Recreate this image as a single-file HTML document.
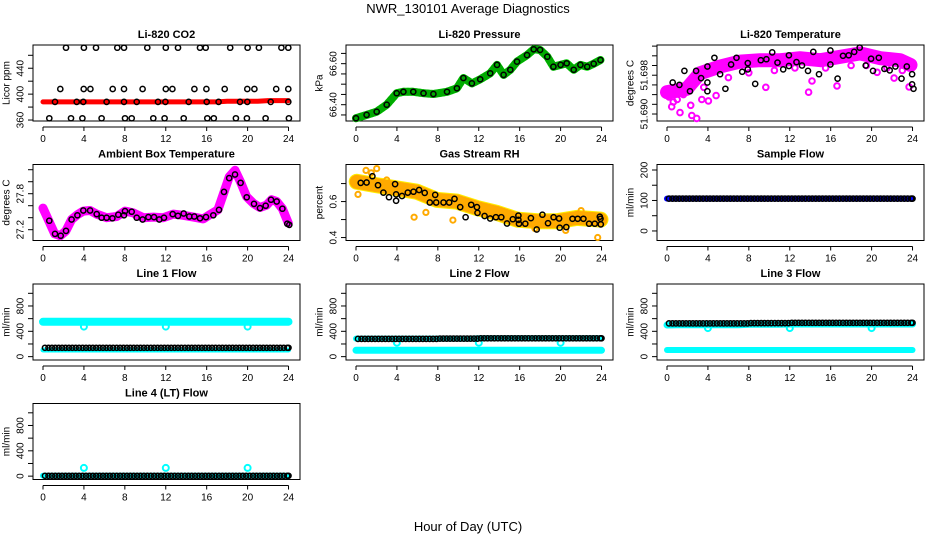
<!DOCTYPE html>
<html><head><meta charset="utf-8"><style>
html,body{margin:0;padding:0;background:#fff;}
svg{display:block;font-family:"Liberation Sans",Helvetica,sans-serif;}
</style></head><body>
<svg id="chart" width="936" height="540" viewBox="0 0 936 540" xmlns="http://www.w3.org/2000/svg">
<text x="468" y="13" font-size="13" text-anchor="middle">NWR_130101  Average Diagnostics</text>
<text x="468" y="531" font-size="13" text-anchor="middle">Hour of Day (UTC)</text>
</svg>
<script>
const xTicks = [0,4,8,12,16,20,24];
const co2RedHourly = [388,388,388,388,388,388,388,388,388,388,388,388,388,388,388,388,388,388,389,389,389,389,390,390,390];
const co2TopHours = [2.25,4.0,5.18,7.26,7.92,10.2,12.0,13.2,15.35,15.9,18.3,20.0,21.1,23.3,23.98];
const co2TopValue = 471.7;
const co2MidHours = [1.69,3.98,4.63,6.81,7.92,9.74,12.0,12.65,14.8,15.97,17.76,19.97,20.66,22.8,23.98];
const co2MidValue = 408;
const co2LineHours = [1.17,3.29,3.94,6.22,7.92,9.16,11.24,11.96,14.24,16.0,17.17,19.26,19.97,22.26,23.98];
const co2LineValue = 388;
const co2LowHours = [0.62,2.74,3.85,5.73,8.02,8.67,10.78,11.89,13.75,16.06,16.7,18.86,19.93,21.76,24.04];
const co2LowValue = 362.6;
const presHours = [0,1.04,2.02,3.0,3.98,4.63,5.6,6.6,7.57,8.9,9.86,10.5,11.33,12.14,13.12,13.78,14.43,15.08,15.74,16.72,17.37,18.0,18.7,19.3,20.0,20.6,21.28,21.94,22.6,23.24,23.9];
const presValues = [66.334,66.35,66.366,66.40,66.456,66.463,66.463,66.456,66.452,66.463,66.48,66.53,66.504,66.524,66.553,66.594,66.545,66.57,66.61,66.642,66.67,66.667,66.634,66.585,66.594,66.602,66.57,66.594,66.585,66.60,66.618];
const tempTrendHours = [0,1.93,3.23,5.19,7.15,9.1,11.07,13.0,15.0,16.94,18.9,20.86,22.8,23.8];
const tempTrendValues = [51.6945,51.6952,51.6984,51.6998,51.7008,51.7011,51.7011,51.7015,51.7011,51.7018,51.7025,51.7015,51.7011,51.7001];
const tempOutHours = [0.46,1.27,2.42,2.9,3.4,4.05,4.8,9.66,13.84,14.17,16.62,20.54,22.2,23.67,2.32,0.62,0.2,1.0,1.6,2.0,3.6,6.0,8.0,10.5,12.5,15.5,18.0,19.5,21.5,23.0];
const tempOutValues = [51.6915,51.6903,51.6897,51.6891,51.6930,51.6927,51.6938,51.6955,51.6945,51.6968,51.6958,51.6986,51.6974,51.6956,51.6918,51.6925,51.6935,51.6930,51.6940,51.6948,51.6955,51.6975,51.6985,51.6990,51.6995,51.6995,51.7000,51.7000,51.6995,51.6990];
const tempBlackHours = [0.56,1.21,1.70,2.25,2.84,3.33,3.95,3.95,3.95,4.63,5.19,5.71,6.27,6.79,7.35,7.9,7.9,8.62,9.17,9.72,10.28,10.8,11.36,11.92,11.92,12.66,13.2,13.78,14.3,14.86,15.97,15.97,16.68,17.2,17.76,18.3,18.84,19.42,19.95,20.14,20.7,21.25,21.77,22.33,22.92,23.44,23.96,23.96,24.1];
const tempBlackValues = [51.6965,51.6960,51.6989,51.6947,51.6989,51.6974,51.6998,51.6965,51.6947,51.7016,51.6982,51.6952,51.7002,51.7016,51.6987,51.7005,51.6992,51.6962,51.7011,51.7013,51.7027,51.7006,51.6992,51.7021,51.6999,51.7007,51.7000,51.6989,51.7028,51.6982,51.7031,51.7002,51.6973,51.7020,51.7021,51.7028,51.7037,51.7000,51.7014,51.6989,51.7016,51.6993,51.6990,51.6998,51.6973,51.6998,51.6982,51.6961,51.6952];
const ambHours = [0,0.59,1.14,1.69,2.24,2.8,3.36,3.94,4.6,5.24,6.22,7.2,8.02,8.83,9.8,10.8,11.76,12.74,13.7,14.7,15.67,16.3,17.1,17.7,18.2,18.77,19.3,19.9,20.56,21.2,21.86,22.35,22.84,23.4,23.98];
const ambValues = [27.56,27.34,27.13,27.10,27.18,27.37,27.45,27.51,27.52,27.46,27.40,27.42,27.51,27.48,27.40,27.41,27.40,27.46,27.44,27.41,27.38,27.45,27.53,27.83,28.08,28.19,28.0,27.75,27.64,27.57,27.61,27.70,27.67,27.55,27.31];
const ambBlackHours = [0.62,1.17,1.73,2.25,2.8,3.36,3.94,4.6,5.25,5.73,6.22,6.78,7.36,7.92,8.02,8.67,9.16,9.74,10.3,10.85,11.37,11.83,12.68,13.2,13.75,14.3,14.79,15.35,15.93,16.65,17.2,17.69,18.2,18.77,19.32,19.91,20.63,21.21,21.77,22.29,22.84,23.4,23.88,24.08];
const ambBlackValues = [27.35,27.13,27.10,27.18,27.37,27.44,27.52,27.52,27.46,27.40,27.40,27.39,27.45,27.44,27.51,27.50,27.40,27.37,27.41,27.41,27.37,27.40,27.46,27.43,27.47,27.42,27.42,27.39,27.41,27.44,27.53,27.83,28.06,28.12,27.98,27.74,27.63,27.56,27.60,27.70,27.67,27.55,27.30,27.28];
const rhHours = [0.07,2.02,3.98,5.94,7.9,9.86,11.82,13.78,15.74,17.7,19.66,21.6,23.9];
const rhValues = [0.710,0.691,0.673,0.655,0.609,0.600,0.564,0.537,0.500,0.491,0.491,0.509,0.500];
const rhOutHours = [0.98,2.02,5.68,6.83,9.47,23.63,0.2,1.5,3.0,17.5,20.5,22.0];
const rhOutValues = [0.773,0.783,0.513,0.540,0.497,0.400,0.64,0.76,0.72,0.45,0.44,0.55];
const rhBlackHours = [0.46,1.04,1.6,2.15,2.68,3.23,3.82,3.92,3.92,4.5,5.06,5.62,6.17,6.72,7.21,7.74,7.84,8.55,9.11,9.63,10.19,10.71,11.26,11.82,11.88,12.57,13.12,13.68,14.2,14.76,15.33,15.87,15.87,15.93,16.55,17.1,17.66,18.22,18.77,19.32,19.85,19.91,20.56,21.16,21.67,22.23,22.79,23.34,23.83,23.9,23.93];
const rhBlackValues = [0.704,0.706,0.741,0.691,0.65,0.624,0.697,0.64,0.604,0.631,0.65,0.655,0.664,0.648,0.595,0.637,0.595,0.595,0.595,0.615,0.569,0.513,0.582,0.569,0.537,0.52,0.506,0.513,0.513,0.478,0.502,0.522,0.498,0.477,0.477,0.508,0.445,0.527,0.48,0.513,0.506,0.455,0.458,0.504,0.504,0.504,0.477,0.477,0.516,0.504,0.473];
const sampleFlowHourly = [106,106,106,106,106,106,106,106,106,106,106,106,106,106,106,106,106,106,106,106,106,106,106,106,106];
const line1High = [550,550,550,550,550,552,552,552,552,552,552,552,552,552,552,552,552,552,552,552,552,552,552,552,552];
const line1Low = [105,105,105,105,105,105,105,105,105,105,105,105,105,105,105,105,105,105,105,105,105,105,105,105,105];
const line1Black = [140,140,140,140,140,140,140,140,140,140,140,140,140,140,140,140,140,140,140,140,140,140,140,140,140];
const line2High = [285,285,285,285,285,285,285,285,285,285,285,285,290,290,290,290,290,290,290,290,290,290,290,290,290];
const line2Low = [100,100,100,100,100,100,100,100,100,100,100,100,100,100,100,100,100,100,100,100,100,100,100,100,100];
const line2Black = [280,280,280,280,280,280,280,280,285,285,285,285,290,290,290,290,290,290,290,290,290,290,290,290,290];
const line3High = [500,505,505,505,505,505,505,505,510,510,510,510,515,515,515,515,515,515,515,515,515,515,515,515,515];
const line3Low = [105,105,105,105,105,105,105,105,105,105,105,105,105,105,105,105,105,105,105,105,105,105,105,105,105];
const line3Black = [525,525,525,525,525,525,525,525,530,530,530,530,535,535,535,535,535,535,535,535,535,535,535,535,535];
const line4High = [5,5,5,5,5,5,5,5,5,5,5,5,5,5,5,5,5,5,5,5,5,5,5,5,5];
const line4Black = [5,5,5,5,5,5,5,5,5,5,5,5,5,5,5,5,5,5,5,5,5,5,5,5,5];
const dipHours = [4,12,20];
const line1Dip = 475, line2Dip = 220, line3Dip = 450, line4Spike = 130;

const NS = "http://www.w3.org/2000/svg";
const svg = document.getElementById('chart');
const COLS = [33,346,657], ROWS = [45,164.5,284,403.5], W = 267, H = 76;
function mk(tag, attrs, parent) {
  const e = document.createElementNS(NS, tag);
  for (const k in attrs) e.setAttribute(k, attrs[k]);
  (parent || svg).appendChild(e);
  return e;
}
function panel(name, title, ylab, col, row, ybot, ytop, yticks, ylabels) {
  const g = mk('g', {});
  
  
  const L = COLS[col], T = ROWS[row];
  const sx = h => L + 10 + h * 10.23;
  const sy = v => T + H - (v - ybot) / (ytop - ybot) * H;
  const t = mk('text', {x: L + W / 2, y: T - 7, 'font-size': 11, 'font-weight': 'bold', 'text-anchor': 'middle'}, g);
  t.textContent = title;
  
  
  const box = mk('rect', {x: L, y: T, width: W, height: H, fill: 'none', stroke: '#000', 'stroke-width': 1}, g);
  
  
  const xa = mk('g', {}, g);
  
  
  const ay = T + H + 6;
  mk('line', {x1: sx(xTicks[0]), x2: sx(xTicks[xTicks.length - 1]), y1: ay, y2: ay, stroke: '#000'}, xa);
  xTicks.forEach(v => {
    mk('line', {x1: sx(v), x2: sx(v), y1: ay, y2: ay + 4, stroke: '#000'}, xa);
    const tx = mk('text', {x: sx(v), y: ay + 15, 'font-size': 10, 'text-anchor': 'middle'}, xa);
    tx.textContent = v;
  });
  const ya = mk('g', {}, g);
  
  
  yticks.forEach(v => mk('line', {x1: L - 5, x2: L, y1: sy(v), y2: sy(v), stroke: '#000'}, ya));
  ylabels.forEach(v => {
    const yy = sy(parseFloat(v));
    const tx = mk('text', {x: L - 12, y: yy, 'font-size': 10, 'text-anchor': 'middle', transform: `rotate(-90 ${L - 12} ${yy})`, 'dominant-baseline': 'central'}, ya);
    tx.textContent = v;
  });
  const yt = mk('text', {x: L - 26, y: T + H / 2, 'font-size': 10, 'text-anchor': 'middle', transform: `rotate(-90 ${L - 26} ${T + H / 2})`, 'dominant-baseline': 'central'}, g);
  yt.textContent = ylab;
  
  
  const clip = 'clip-' + name;
  const cp = mk('clipPath', {id: clip}, g);
  mk('rect', {x: L, y: T - 2, width: W, height: H + 4}, cp);
  const dg = mk('g', {'clip-path': `url(#${clip})`}, g);
  
  
  return {sx, sy, g: dg};
}
function line(p, hs, vs, color, w, extra) {
  const pts = hs.map((h, i) => p.sx(h).toFixed(1) + ',' + p.sy(vs[i]).toFixed(1)).join(' ');
  const e = mk('polyline', Object.assign({points: pts, fill: 'none', stroke: color, 'stroke-width': w, 'stroke-linejoin': 'round', 'stroke-linecap': 'round'}, extra || {}), p.g);
  
  
  return e;
}
function dot(p, h, v, color, r, sw) {
  const c = mk('circle', {cx: p.sx(h).toFixed(1), cy: p.sy(v).toFixed(1), r: r || 2.6, fill: 'none', stroke: color, 'stroke-width': sw || 1.5}, p.g);
  
  
}
function hourly(p, arr, color, w) {
  line(p, arr.map((v, i) => i), arr, color, w);
}
function hourlyDots(p, arr, color, perHour) {
  for (let i = 0; i < arr.length - 1; i++)
    for (let k = 0; k < perHour; k++) dot(p, i + 0.2 + k / perHour, arr[i], color);
  dot(p, 24, arr[arr.length - 1], color);
}

let p = panel('co2', 'Li-820 CO2', 'Licor ppm', 0, 0, 358.5, 475.9, [360,380,400,420,440,460], ['360','400','440']);
hourly(p, co2RedHourly, '#ff0000', 5);
co2TopHours.forEach(h => dot(p, h, co2TopValue, '#000'));
co2MidHours.forEach(h => dot(p, h, co2MidValue, '#000'));
co2LineHours.forEach(h => dot(p, h, co2LineValue, '#000'));
co2LowHours.forEach(h => dot(p, h, co2LowValue, '#000'));

p = panel('pressure', 'Li-820 Pressure', 'kPa', 1, 0, 66.3205, 66.691, [66.35,66.40,66.45,66.50,66.55,66.60,66.65], ['66.40','66.60']);
line(p, presHours, presValues, '#00ee00', 8);
line(p, presHours, presValues, '#006600', 8, {'stroke-dasharray': '1 3', 'stroke-opacity': 0.5});
presHours.forEach((h, i) => dot(p, h, presValues[i], '#000'));

p = panel('temperature', 'Li-820 Temperature', 'degrees C', 2, 0, 51.68856, 51.70423, [51.690,51.692,51.694,51.696,51.698,51.700,51.702,51.704], ['51.690','51.698']);
line(p, tempTrendHours, tempTrendValues, '#ff00ff', 14);
tempOutHours.forEach((h, i) => dot(p, h, tempOutValues[i], '#ff00ff', 2.8, 2));
tempBlackHours.forEach((h, i) => dot(p, h, tempBlackValues[i], '#000'));

p = panel('ambient-temp', 'Ambient Box Temperature', 'degrees C', 0, 1, 27.02, 28.287, [27.2,27.4,27.6,27.8,28.0,28.2], ['27.2','27.8']);
line(p, ambHours, ambValues, '#ff00ff', 9);
ambBlackHours.forEach((h, i) => dot(p, h, ambBlackValues[i], '#000'));

p = panel('gas-rh', 'Gas Stream RH', 'percent', 1, 1, 0.3836, 0.806, [0.4,0.5,0.6,0.7], ['0.4','0.6']);
line(p, rhHours, rhValues, '#ffee00', 16);
line(p, rhHours, rhValues, '#ff6600', 14, {'stroke-dasharray': '1 2', 'stroke-opacity': 0.5});
rhOutHours.forEach((h, i) => dot(p, h, rhOutValues[i], '#ffaa00', 2.6, 2));
rhBlackHours.forEach((h, i) => dot(p, h, rhBlackValues[i], '#000'));

p = panel('sample-flow', 'Sample Flow', 'ml/min', 2, 1, -31.3, 218, [0,50,100,150,200], ['0','100','200']);
hourly(p, sampleFlowHourly, '#0000ff', 6);
hourlyDots(p, sampleFlowHourly, '#000', 3);

const flowTicks = [0,200,400,600,800,1000], flowLabels = ['0','400','800'];
p = panel('line1-flow', 'Line 1 Flow', 'ml/min', 0, 2, -53, 1147, flowTicks, flowLabels);
hourly(p, line1High, '#00ffff', 8);
hourly(p, line1Low, '#00ffff', 5);
dipHours.forEach(h => dot(p, h, line1Dip, '#00ffff', 3, 2));
hourlyDots(p, line1Black, '#000', 3);
p = panel('line2-flow', 'Line 2 Flow', 'ml/min', 1, 2, -53, 1147, flowTicks, flowLabels);
hourly(p, line2High, '#00ffff', 6);
hourly(p, line2Low, '#00ffff', 7);
dipHours.forEach(h => dot(p, h, line2Dip, '#00ffff', 3, 2));
hourlyDots(p, line2Black, '#000', 3);
p = panel('line3-flow', 'Line 3 Flow', 'ml/min', 2, 2, -53, 1147, flowTicks, flowLabels);
hourly(p, line3High, '#00ffff', 7);
hourly(p, line3Low, '#00ffff', 6);
dipHours.forEach(h => dot(p, h, line3Dip, '#00ffff', 3, 2));
hourlyDots(p, line3Black, '#000', 3);
p = panel('line4-flow', 'Line 4 (LT) Flow', 'ml/min', 0, 3, -53, 1147, flowTicks, flowLabels);
hourly(p, line4High, '#00ffff', 6);
dipHours.forEach(h => dot(p, h, line4Spike, '#00ffff', 3, 2));
hourlyDots(p, line4Black, '#000', 3);
</script>
</body></html>
